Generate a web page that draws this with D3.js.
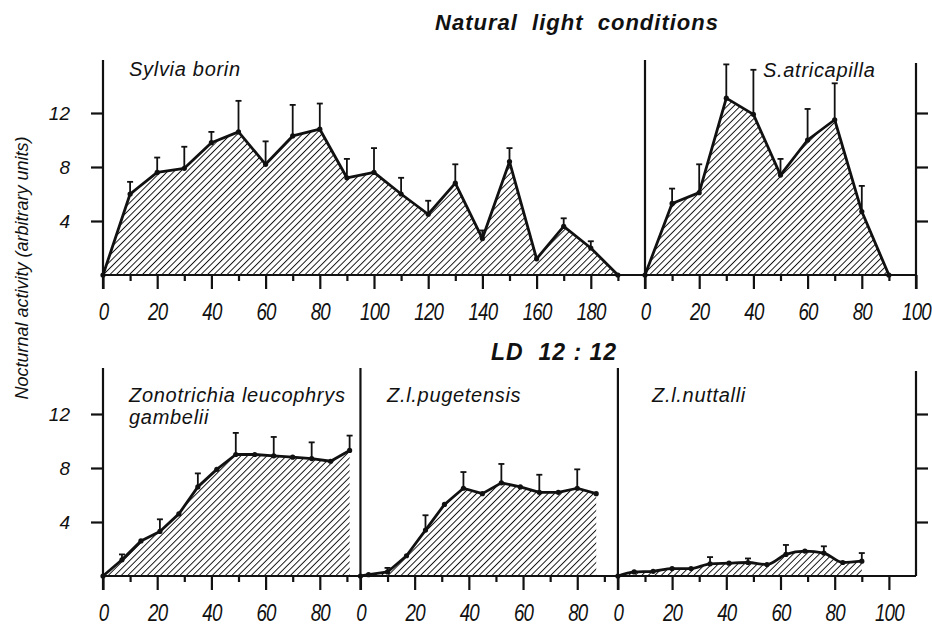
<!DOCTYPE html>
<html>
<head>
<meta charset="utf-8">
<script src="https://cdn.jsdelivr.net/npm/d3@7"></script>
<style>
body { margin: 0; background: #fff; }
text { font-family: "Liberation Sans", Arial, sans-serif; font-style: italic; fill: #111; }
.title { font-weight: bold; font-size: 22px; letter-spacing: 1px; white-space: pre; }
.label { font-size: 20px; letter-spacing: 0.7px; }
</style>
</head>
<body>
<svg id="chart" width="932" height="627"></svg>
<script>
/* values: day, mean activity, top of the SD bar (null = no bar) */
const borinX   = [0, 10, 20, 30, 40, 50, 60, 70, 80, 90, 100, 110, 120, 130, 140, 150, 160, 170, 180, 190];
const borinY   = [0, 6.0, 7.6, 7.9, 9.8, 10.6, 8.2, 10.3, 10.8, 7.2, 7.6, 6.0, 4.5, 6.8, 2.7, 8.4, 1.2, 3.6, 2.0, 0];
const borinErr = [null, 6.9, 8.7, 9.5, 10.6, 12.9, 9.9, 12.6, 12.7, 8.6, 9.4, 7.2, 5.5, 8.2, 3.3, 9.4, null, 4.2, 2.5, null];

const atriX   = [0, 10, 20, 30, 40, 50, 60, 70, 80, 90];
const atriY   = [0, 5.3, 6.1, 13.1, 11.9, 7.4, 10.0, 11.5, 4.7, 0];
const atriErr = [null, 6.4, 8.2, 15.6, 15.2, 8.6, 12.3, 14.2, 6.6, null];

const gambX   = [0, 7, 14, 21, 28, 35, 42, 49, 56, 63, 70, 77, 84, 91];
const gambY   = [0, 1.2, 2.6, 3.3, 4.6, 6.6, 7.9, 9.0, 9.0, 8.9, 8.8, 8.7, 8.5, 9.3];
const gambErr = [null, 1.6, null, 4.2, null, 7.6, null, 10.6, null, 10.3, null, 9.9, null, 10.4];

const pugX   = [0, 3, 10, 17, 24, 31, 38, 45, 52, 59, 66, 73, 80, 87];
const pugY   = [0, 0.1, 0.3, 1.5, 3.4, 5.3, 6.5, 6.1, 6.9, 6.6, 6.2, 6.2, 6.5, 6.1];
const pugErr = [null, null, 0.6, null, 4.5, null, 7.7, null, 8.3, null, 7.5, null, 7.9, null];

const nutX   = [0, 6, 13, 20, 27, 34, 41, 48, 55, 62, 69, 76, 83, 90];
const nutY   = [0, 0.3, 0.35, 0.55, 0.55, 0.9, 0.95, 1.0, 0.85, 1.6, 1.85, 1.7, 1.0, 1.1];
const nutErr = [null, null, null, null, null, 1.4, null, 1.3, null, 2.3, null, 2.2, null, 1.7];

const yTicks = [4, 8, 12];

const svg = d3.select("#chart");

// diagonal hatching for the areas
svg.append("defs").append("pattern")
    .attr("id", "hatch")
    .attr("width", 4.6).attr("height", 4.6)
    .attr("patternUnits", "userSpaceOnUse")
    .attr("patternTransform", "rotate(45)")
  .append("line")
    .attr("x1", 0).attr("y1", 0).attr("x2", 0).attr("y2", 4.6)
    .attr("stroke", "#111").attr("stroke-width", 1.9);

// both rows share one day scale: 300 days across the plot
const dayScale = d3.scaleLinear().domain([0, 300]).range([103, 916]);

const rows = [
    {base: 275, top: 60, y: d3.scaleLinear().domain([0, 16]).range([275, 59]),
     panels: [
        {off: 0,   len: 200, maxTick: 190, name: ["Sylvia borin"], lx: 129, ly: 76,
         xs: borinX, ys: borinY, err: borinErr, curve: d3.curveLinear},
        {off: 200, len: 100, maxTick: 100, name: ["S.atricapilla"], lx: 763, ly: 77,
         xs: atriX, ys: atriY, err: atriErr, curve: d3.curveLinear}
     ]},
    {base: 576, top: 368, y: d3.scaleLinear().domain([0, 16]).range([576, 360]),
     panels: [
        {off: 0,   len: 95,  maxTick: 90,  name: ["Zonotrichia leucophrys", "gambelii"], lx: 129, ly: 402,
         xs: gambX, ys: gambY, err: gambErr, curve: d3.curveLinear},
        {off: 95,  len: 95,  maxTick: 90,  name: ["Z.l.pugetensis"], lx: 387, ly: 402,
         xs: pugX, ys: pugY, err: pugErr, curve: d3.curveLinear},
        {off: 190, len: 110, maxTick: 100, name: ["Z.l.nuttalli"], lx: 652, ly: 402,
         xs: nutX, ys: nutY, err: nutErr, curve: d3.curveMonotoneX}
     ]}
];

rows.forEach(row => {
    let g = svg.append("g");
    let y = row.y;

    // baseline across the row
    g.append("line")
        .attr("x1", dayScale(0)).attr("x2", dayScale(300))
        .attr("y1", row.base).attr("y2", row.base)
        .attr("stroke", "#111").attr("stroke-width", 2.2);

    row.panels.forEach((p, i) => {
        let x = d3.scaleLinear().domain([0, p.len]).range([dayScale(p.off), dayScale(p.off + p.len)]);
        let pts = p.xs.map((d, j) => ({x: d, y: p.ys[j], e: p.err[j]}));

        // hatched area + outline
        g.append("path")
            .datum(pts)
            .attr("fill", "url(#hatch)")
            .attr("d", d3.area().x(d => x(d.x)).y0(y(0)).y1(d => y(d.y)).curve(p.curve));
        g.append("path")
            .datum(pts)
            .attr("fill", "none").attr("stroke", "#111").attr("stroke-width", 2.8)
            .attr("stroke-linejoin", "round")
            .attr("d", d3.line().x(d => x(d.x)).y(d => y(d.y)).curve(p.curve));

        g.selectAll(null).data(pts).enter().append("circle")
            .attr("cx", d => x(d.x)).attr("cy", d => y(d.y)).attr("r", 2.6)
            .attr("fill", "#111");

        // error bars (upper half only)
        let bars = g.selectAll(null).data(pts.filter(d => d.e !== null)).enter().append("g")
            .attr("stroke", "#111").attr("stroke-width", 1.8);
        bars.append("line")
            .attr("x1", d => x(d.x)).attr("x2", d => x(d.x))
            .attr("y1", d => y(d.y)).attr("y2", d => y(d.e));
        bars.append("line")
            .attr("x1", d => x(d.x) - 3).attr("x2", d => x(d.x) + 3)
            .attr("y1", d => y(d.e)).attr("y2", d => y(d.e));

        // x axis: short ticks every 10, long labelled ticks every 20
        let minor = g.append("g").attr("transform", `translate(0,${row.base})`)
            .call(d3.axisBottom(x).tickValues(d3.range(10, p.maxTick + 1, 20)).tickSize(6).tickSizeOuter(0).tickFormat(""));
        let major = g.append("g").attr("transform", `translate(0,${row.base})`)
            .call(d3.axisBottom(x).tickValues(d3.range(0, p.maxTick + 1, 20)).tickSize(14).tickSizeOuter(0));
        [minor, major].forEach(a => {
            a.select(".domain").remove();
            a.selectAll("line").attr("stroke", "#111").attr("stroke-width", 2.2);
        });
        // condensed figures, like the narrow italic type of the original
        major.selectAll("text")
            .attr("y", 0).attr("dy", 0)
            .attr("transform", "translate(0,45) scale(0.78,1)")
            .attr("font-family", null).attr("fill", "#111")
            .style("font-size", "24px").style("letter-spacing", "-1px");

        // left edge of the panel (axis or divider)
        g.append("line")
            .attr("x1", x(0)).attr("x2", x(0))
            .attr("y1", row.top).attr("y2", row.base + 14)
            .attr("stroke", "#111").attr("stroke-width", 2.2);

        // panel label
        let t = g.append("text").attr("class", "label").attr("x", p.lx).attr("y", p.ly);
        p.name.forEach((s, k) => t.append("tspan").attr("x", p.lx).attr("dy", k ? 22 : 0).text(s));
    });

    // left value axis
    let left = g.append("g").attr("transform", `translate(${dayScale(0)},0)`)
        .call(d3.axisLeft(y).tickValues(yTicks).tickSize(12));
    left.select(".domain").remove();
    left.selectAll("line").attr("stroke", "#111").attr("stroke-width", 2.2);
    left.selectAll("text")
        .attr("x", -33).attr("text-anchor", "end")
        .attr("font-family", null).attr("fill", "#111").style("font-size", "19px");

    // right value axis, ticks outward, no labels
    let right = g.append("g").attr("transform", `translate(${dayScale(300)},0)`)
        .call(d3.axisRight(y).tickValues(yTicks).tickSize(12).tickFormat(""));
    right.select(".domain").remove();
    right.selectAll("line").attr("stroke", "#111").attr("stroke-width", 2.2);
    g.append("line")
        .attr("x1", dayScale(300)).attr("x2", dayScale(300))
        .attr("y1", row.top + 3).attr("y2", row.base + (row.base < 300 ? 14 : 0))
        .attr("stroke", "#111").attr("stroke-width", 2.2);
});

// titles
svg.append("text").attr("class", "title").attr("x", 577).attr("y", 30)
    .attr("text-anchor", "middle").text("Natural  light  conditions");
svg.append("text").attr("class", "title").attr("x", 554).attr("y", 360)
    .attr("text-anchor", "middle").style("font-size", "23px").text("LD  12 : 12");

svg.append("text")
    .attr("transform", "translate(28,268) rotate(-90)")
    .attr("text-anchor", "middle")
    .style("font-size", "18px")
    .text("Nocturnal activity (arbitrary units)");
</script>
</body>
</html>
